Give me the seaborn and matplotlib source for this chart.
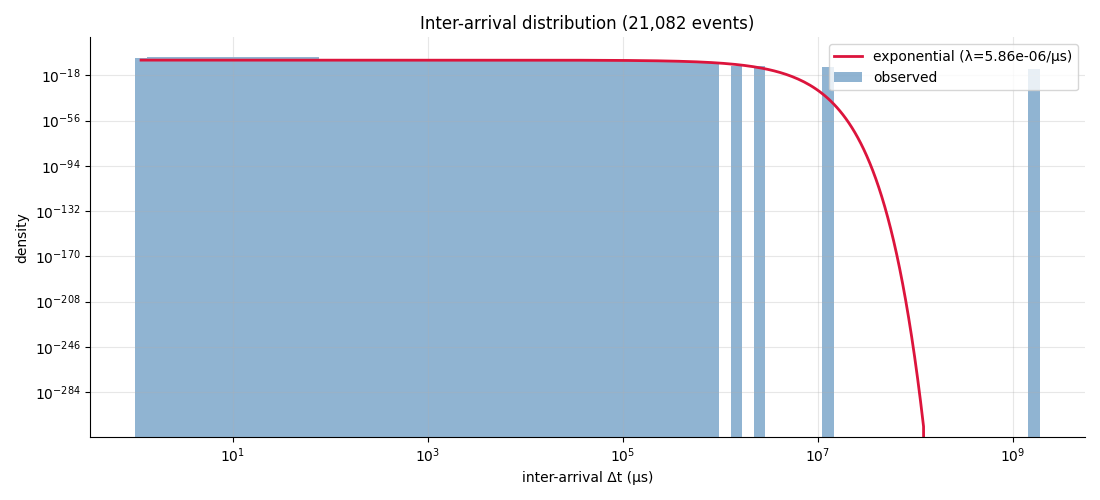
import numpy as np
import pandas as pd
import seaborn as sns
import matplotlib
matplotlib.use("Agg")
import matplotlib.pyplot as plt

# observed inter-arrival times (µs), binned on 80 log-spaced edges
t_min = 1.0
t_max = 1.88e9
n_edges = 80
counts = [1, 11, 14, 18, 24, 32, 166, 217, 285, 373,
          489, 161, 841, 277, 363, 476, 31, 36, 41, 46,
          53, 60, 69, 79, 90, 103, 117, 134, 152, 174,
          199, 226, 259, 295, 337, 385, 439, 501, 572, 653,
          745, 849, 970, 1107, 1265, 1442, 1560, 1450, 1250, 900,
          741, 0, 1, 0, 1, 0, 0, 0, 0, 0,
          1, 0, 0, 0, 0, 0, 0, 0, 0, 0,
          0, 0, 0, 0, 0, 0, 0, 0, 1]

lam = 5.86e-06          # fitted rate, per µs
n_fit = 300

counts = np.array(counts)
n_events = counts.sum()
edges = np.logspace(np.log10(t_min), np.log10(t_max), n_edges)
centers = np.sqrt(edges[:-1] * edges[1:])
widths = np.diff(edges)
density = counts / (n_events * widths)

df_hist = pd.DataFrame({"t": centers, "density": density})

# exponential model evaluated between the first and last bin centres
t_fit = np.logspace(np.log10(centers[0]), np.log10(centers[-1]), n_fit)
pdf_fit = lam * np.exp(-lam * t_fit)
df_fit = pd.DataFrame({"t": t_fit, "pdf": pdf_fit})

fig, ax = plt.subplots(figsize=(11, 5), dpi=100)

# line first while axes are still linear, so the underflowed zeros are kept
sns.lineplot(data=df_fit, x="t", y="pdf", color="crimson", linewidth=2,
             label=f"exponential (λ={lam:.2e}/µs)", ax=ax)
# seaborn bins a log axis in log10 units
sns.histplot(data=df_hist, x="t", weights="density",
             bins=list(np.log10(edges)),
             log_scale=(True, False), stat="count", color="steelblue",
             alpha=0.6, linewidth=0, label="observed", ax=ax)

ax.set_yscale("log")
ax.set_ylim(10 ** -321.8, 10 ** 13.9)
ax.grid(True, alpha=0.3)
ax.set_xlabel("inter-arrival Δt (µs)")
ax.set_ylabel("density")
ax.set_title(f"Inter-arrival distribution ({n_events:,} events)")
ax.legend(loc="upper right")
sns.despine(ax=ax)
plt.tight_layout()
plt.savefig("out.png")
